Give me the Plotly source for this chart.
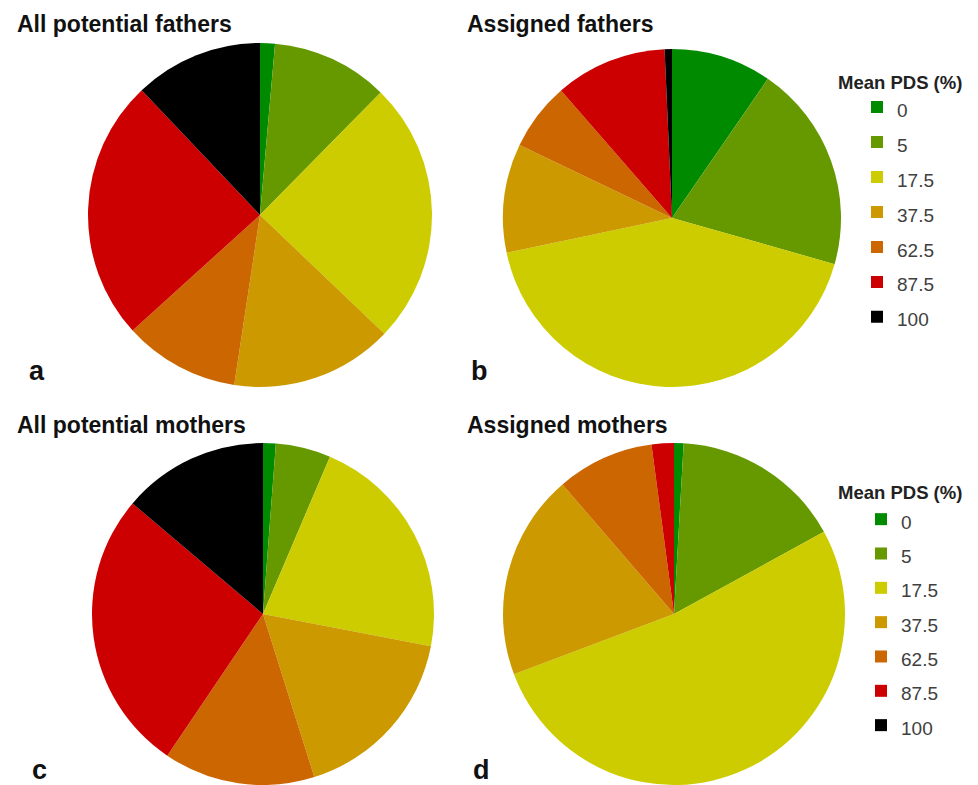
import plotly.graph_objects as go

# Mean PDS classes (%) and slice colours
pds_classes = ["0", "5", "17.5", "37.5", "62.5", "87.5", "100"]
class_colors = ["#008a00", "#669900", "#cccc00", "#cc9900", "#cc6600", "#cc0000", "#000000"]

# Share of individuals (%) in each PDS class
all_potential_fathers = [1.4, 11.0, 24.8, 15.3, 10.9, 24.7, 12.1]
assigned_fathers = [9.6, 19.8, 42.3, 10.4, 6.5, 10.7, 0.7]
all_potential_mothers = [1.2, 5.2, 21.6, 17.1, 14.3, 26.7, 13.8]
assigned_mothers = [0.9, 16.1, 52.2, 19.4, 9.2, 2.1, 0.0]

panel_titles = ["All potential fathers", "Assigned fathers",
                "All potential mothers", "Assigned mothers"]
panel_letters = ["a", "b", "c", "d"]
legend_title = "Mean PDS (%)"

W, H = 978, 785
FONT = "Liberation Sans, Arial, sans-serif"


def px(x):
    return x / W


def py(y):
    return 1 - y / H


# Legend entries are drawn at 19px inside a taller legend line.  Pie legends
# merge slices by label, so each legend gets its own spelling of the markup.
labels_top = ['<span style="font-size:19px">%s</span>' % c for c in pds_classes]
labels_bottom = ['<span style="font-size:19px;">%s</span>' % c for c in pds_classes]

# pixel geometry of each pie: centre x, centre y, radius
pies = [
    (all_potential_fathers, 260, 215, 172, "legend", labels_top),
    (assigned_fathers, 672, 218, 169, "legend", labels_top),
    (all_potential_mothers, 263, 614, 171, "legend2", labels_bottom),
    (assigned_mothers, 674, 614, 171, "legend2", labels_bottom),
]

fig = go.Figure()
for values, cx, cy, r, leg, labels in pies:
    fig.add_trace(go.Pie(
        labels=labels,
        values=values,
        sort=False,
        direction="clockwise",
        rotation=0,
        textinfo="none",
        hoverinfo="label+percent",
        marker=dict(colors=class_colors, line=dict(width=0)),
        domain=dict(x=[px(cx - r), px(cx + r)], y=[max(0, py(cy + r)), min(1, py(cy - r))]),
        legend=leg,
    ))

annotations = []
title_pos = [(15, 24), (465, 24), (15, 425), (465, 425)]
for t, (x, y) in zip(panel_titles, title_pos):
    annotations.append(dict(text="<b>%s</b>" % t, x=px(x), y=py(y), xref="paper", yref="paper",
                            xanchor="left", yanchor="middle", showarrow=False,
                            font=dict(family=FONT, size=23, color="#111111")))

letter_pos = [(27, 371), (469, 371), (30, 770), (471, 770)]
for t, (x, y) in zip(panel_letters, letter_pos):
    annotations.append(dict(text="<b>%s</b>" % t, x=px(x), y=py(y), xref="paper", yref="paper",
                            xanchor="left", yanchor="middle", showarrow=False,
                            font=dict(family=FONT, size=27, color="#111111")))

for y in (83, 492):
    annotations.append(dict(text="<b>%s</b>" % legend_title, x=px(836), y=py(y), xref="paper", yref="paper",
                            xanchor="left", yanchor="middle", showarrow=False,
                            font=dict(family=FONT, size=18.5, color="#222222")))

fig.update_layout(
    width=W, height=H,
    margin=dict(l=0, r=0, t=0, b=0),
    paper_bgcolor="white",
    plot_bgcolor="white",
    showlegend=True,
    legend=dict(x=px(857), y=py(84.5), xanchor="left", yanchor="top",
                font=dict(family=FONT, size=24.6, color="#404040"),
                bgcolor="rgba(0,0,0,0)", borderwidth=0),
    legend2=dict(x=px(861), y=py(497), xanchor="left", yanchor="top",
                 font=dict(family=FONT, size=24.1, color="#404040"),
                 bgcolor="rgba(0,0,0,0)", borderwidth=0),
    annotations=annotations,
)

fig.write_html("out.html")
